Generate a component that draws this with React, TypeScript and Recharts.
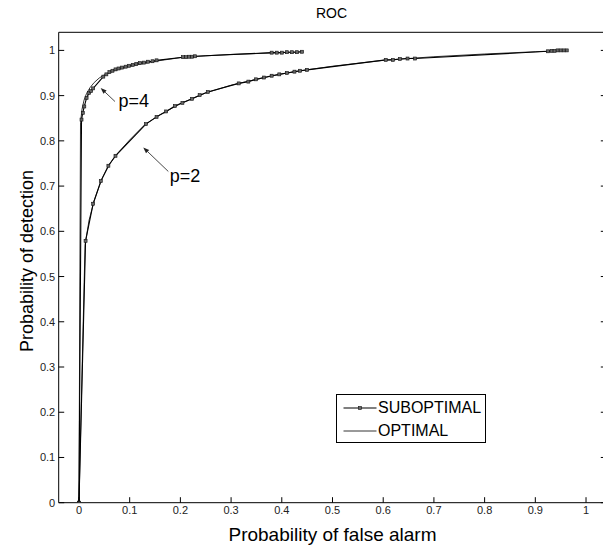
import React from "react";
import { Label, Legend, Line, LineChart, ReferenceDot, ReferenceLine, XAxis, YAxis } from "recharts";

const X_TICKS = [0, 0.1, 0.2, 0.3, 0.4, 0.5, 0.6, 0.7, 0.8, 0.9, 1];
const Y_TICKS = [0, 0.1, 0.2, 0.3, 0.4, 0.5, 0.6, 0.7, 0.8, 0.9, 1];

// [false alarm, detection] pairs
const SUB_P4: [number, number][] = [
  [0, 0], [0.005, 0.847], [0.0075, 0.862], [0.0105, 0.876], [0.015, 0.895], [0.02, 0.906],
  [0.024, 0.91], [0.028, 0.916], [0.048, 0.942], [0.054, 0.947], [0.06, 0.952], [0.066, 0.955],
  [0.072, 0.958], [0.078, 0.96], [0.085, 0.962], [0.092, 0.964], [0.099, 0.966], [0.106, 0.968],
  [0.113, 0.97], [0.12, 0.972], [0.128, 0.973], [0.136, 0.975], [0.145, 0.976], [0.153, 0.978],
  [0.205, 0.985], [0.211, 0.985], [0.217, 0.986], [0.223, 0.986], [0.229, 0.987],
  [0.38, 0.995], [0.39, 0.995], [0.4, 0.995], [0.41, 0.996], [0.42, 0.996], [0.43, 0.996], [0.44, 0.997],
];

const OPT_P4: [number, number][] = [
  [0, 0], [0.003, 0.84], [0.006, 0.87], [0.01, 0.89], [0.015, 0.905], [0.022, 0.918],
  [0.03, 0.929], [0.04, 0.939], [0.05, 0.946], [0.07, 0.955], [0.1, 0.965], [0.15, 0.976],
  [0.2, 0.984], [0.25, 0.988], [0.3, 0.991], [0.35, 0.993], [0.4, 0.995], [0.44, 0.997],
];

const SUB_P2: [number, number][] = [
  [0, 0], [0.013, 0.579], [0.028, 0.661], [0.043, 0.711], [0.058, 0.745], [0.072, 0.767],
  [0.132, 0.837], [0.153, 0.853], [0.172, 0.865], [0.189, 0.877], [0.204, 0.884], [0.223, 0.893],
  [0.238, 0.901], [0.254, 0.908], [0.315, 0.927], [0.334, 0.931], [0.349, 0.936], [0.365, 0.94],
  [0.38, 0.944], [0.395, 0.947], [0.41, 0.95], [0.425, 0.953], [0.436, 0.955], [0.45, 0.957],
  [0.605, 0.979], [0.619, 0.979], [0.633, 0.981], [0.648, 0.982], [0.663, 0.982],
  [0.925, 0.998], [0.932, 0.999], [0.938, 0.999], [0.944, 1], [0.95, 1], [0.956, 1], [0.962, 1],
];

const OPT_P2: [number, number][] = [
  [0, 0], [0.012, 0.57], [0.02, 0.625], [0.03, 0.668], [0.045, 0.715], [0.06, 0.748],
  [0.075, 0.771], [0.1, 0.802], [0.13, 0.836], [0.16, 0.858], [0.2, 0.882], [0.25, 0.906],
  [0.3, 0.923], [0.35, 0.936], [0.4, 0.948], [0.45, 0.957], [0.5, 0.965], [0.6, 0.978],
  [0.7, 0.986], [0.8, 0.992], [0.9, 0.997], [0.96, 1],
];

const LEGEND_ITEMS = [
  { name: "SUBOPTIMAL", marker: true },
  { name: "OPTIMAL", marker: false },
];

const FONT = '"Liberation Sans", Arial, Helvetica, sans-serif';
const TICK_LEN = 5.5;

const toPoints = (arr: [number, number][]) => arr.map(([x, y]) => ({ x, y }));
const fmt = (v: number) => String(Number(v.toFixed(2)));

const SquareDot = (p: any) => {
  if (typeof p.cx !== "number" || typeof p.cy !== "number") return <g />;
  return (
    <rect
      key={p.key ?? `${p.cx}-${p.cy}`}
      x={p.cx - 1.5}
      y={p.cy - 1.5}
      width={3}
      height={3}
      fill="#666"
      stroke="#111"
      strokeWidth={0.6}
    />
  );
};

const BottomTick = (p: any) => (
  <g>
    <line x1={p.x} y1={p.y} x2={p.x} y2={p.y - TICK_LEN} stroke="#000" />
    <text x={p.x} y={p.y + 11.5} textAnchor="middle" fontSize={11} fontFamily={FONT} fill="#222">
      {fmt(p.payload.value)}
    </text>
  </g>
);

const TopTick = (p: any) => (
  <line x1={p.x} y1={p.y} x2={p.x} y2={p.y + TICK_LEN} stroke="#000" />
);

const LeftTick = (p: any) => (
  <g>
    <line x1={p.x} y1={p.y} x2={p.x + TICK_LEN} y2={p.y} stroke="#000" />
    <text x={p.x - 3.5} y={p.y + 4} textAnchor="end" fontSize={11} fontFamily={FONT} fill="#222">
      {fmt(p.payload.value)}
    </text>
  </g>
);

const RightTick = (p: any) => (
  <line x1={p.x} y1={p.y} x2={p.x - TICK_LEN} y2={p.y} stroke="#000" />
);

const Arrow = (p: any) => {
  const { x1, y1, x2, y2 } = p;
  const a = Math.atan2(y2 - y1, x2 - x1);
  const len = 6;
  const half = 2.3;
  const bx = x2 - len * Math.cos(a);
  const by = y2 - len * Math.sin(a);
  const pts = [
    `${x2},${y2}`,
    `${bx + half * Math.sin(a)},${by - half * Math.cos(a)}`,
    `${bx - half * Math.sin(a)},${by + half * Math.cos(a)}`,
  ].join(" ");
  return (
    <g>
      <line x1={x1} y1={y1} x2={bx} y2={by} stroke="#333" strokeWidth={0.9} />
      <polygon points={pts} fill="#222" />
    </g>
  );
};

const textShape = (value: string) => (p: any) => (
  <text x={p.cx} y={p.cy} fontSize={18} fontFamily={FONT} fill="#000">
    {value}
  </text>
);

const LegendBox = () => (
  <div
    style={{
      border: "1px solid #000",
      background: "#fff",
      width: 148,
      height: 46,
      paddingTop: 1,
      fontFamily: FONT,
      fontSize: 16,
      color: "#000",
    }}
  >
    {LEGEND_ITEMS.map((it) => (
      <div key={it.name} style={{ display: "flex", alignItems: "center", height: 23.3, paddingLeft: 6 }}>
        <svg width={35} height={10} style={{ display: "block" }}>
          <line x1={0.5} y1={5} x2={33.5} y2={5} stroke="#000" strokeWidth={it.marker ? 1.1 : 0.8} />
          {it.marker && <rect x={15.5} y={3.5} width={3} height={3} fill="#666" stroke="#111" strokeWidth={0.6} />}
        </svg>
        <span style={{ lineHeight: "18px" }}>{it.name}</span>
      </div>
    ))}
  </div>
);

export default function App() {
  return (
    <div style={{ position: "absolute", left: 0, top: 0, width: 603, height: 547, overflow: "hidden", background: "#fff" }}>
      <LineChart width={620} height={547} margin={{ top: 31.3, right: 12.7, bottom: 0, left: 18.7 }}>
        <XAxis
          xAxisId="bottom"
          dataKey="x"
          type="number"
          domain={[-0.04, 1.04]}
          ticks={X_TICKS}
          interval={0}
          allowDataOverflow
          height={44.3}
          tickSize={0}
          tickMargin={0}
          tickLine={false}
          axisLine={{ stroke: "#000" }}
          tick={BottomTick}
        >
          <Label
            content={(p: any) => (
              <text
                x={p.viewBox.x + p.viewBox.width / 2}
                y={p.viewBox.y + 38}
                textAnchor="middle"
                fontSize={19}
                fontFamily={FONT}
                fill="#000"
              >
                Probability of false alarm
              </text>
            )}
          />
        </XAxis>
        <XAxis
          xAxisId="top"
          orientation="top"
          type="number"
          domain={[-0.04, 1.04]}
          ticks={X_TICKS}
          interval={0}
          allowDataOverflow
          height={1}
          tickSize={0}
          tickMargin={0}
          tickLine={false}
          axisLine={{ stroke: "#000" }}
          tick={TopTick}
        >
          <Label
            content={(p: any) => (
              <text
                x={p.viewBox.x + p.viewBox.width / 2 - 1}
                y={p.viewBox.y - 13}
                textAnchor="middle"
                fontSize={14}
                fontFamily={FONT}
                fill="#000"
              >
                ROC
              </text>
            )}
          />
        </XAxis>
        <YAxis
          yAxisId="left"
          type="number"
          domain={[0, 1.04]}
          ticks={Y_TICKS}
          interval={0}
          allowDataOverflow
          width={40}
          tickSize={0}
          tickMargin={0}
          tickLine={false}
          axisLine={{ stroke: "#000" }}
          tick={LeftTick}
        >
          <Label
            content={() => (
              <text
                x={33}
                y={261}
                transform="rotate(-90 33 261)"
                textAnchor="middle"
                fontSize={18}
                fontFamily={FONT}
                fill="#000"
              >
                Probability of detection
              </text>
            )}
          />
        </YAxis>
        <YAxis
          yAxisId="right"
          orientation="right"
          type="number"
          domain={[0, 1.04]}
          ticks={Y_TICKS}
          interval={0}
          allowDataOverflow
          width={1}
          tickSize={0}
          tickMargin={0}
          tickLine={false}
          axisLine={{ stroke: "#000" }}
          tick={RightTick}
        />

        <Line
          xAxisId="bottom"
          yAxisId="left"
          data={toPoints(OPT_P2)}
          dataKey="y"
          stroke="#000"
          strokeWidth={0.8}
          dot={false}
          activeDot={false}
          isAnimationActive={false}
        />
        <Line
          xAxisId="bottom"
          yAxisId="left"
          data={toPoints(OPT_P4)}
          dataKey="y"
          stroke="#000"
          strokeWidth={0.8}
          dot={false}
          activeDot={false}
          isAnimationActive={false}
        />
        <Line
          xAxisId="bottom"
          yAxisId="left"
          data={toPoints(SUB_P2)}
          dataKey="y"
          stroke="#000"
          strokeWidth={1.1}
          dot={SquareDot}
          activeDot={false}
          isAnimationActive={false}
        />
        <Line
          xAxisId="bottom"
          yAxisId="left"
          data={toPoints(SUB_P4)}
          dataKey="y"
          stroke="#000"
          strokeWidth={1.1}
          dot={SquareDot}
          activeDot={false}
          isAnimationActive={false}
        />

        <ReferenceLine
          xAxisId="bottom"
          yAxisId="left"
          segment={[{ x: 0.071, y: 0.887 }, { x: 0.0428, y: 0.9168 }]}
          shape={Arrow}
        />
        <ReferenceLine
          xAxisId="bottom"
          yAxisId="left"
          segment={[{ x: 0.1762, y: 0.7323 }, { x: 0.1268, y: 0.7854 }]}
          shape={Arrow}
        />
        <ReferenceDot xAxisId="bottom" yAxisId="left" x={0.078} y={0.875} r={0} shape={textShape("p=4")} />
        <ReferenceDot xAxisId="bottom" yAxisId="left" x={0.179} y={0.708} r={0} shape={textShape("p=2")} />

        <Legend
          layout="vertical"
          align="center"
          verticalAlign="middle"
          content={LegendBox}
          wrapperStyle={{ left: 336, top: 394, right: "auto", bottom: "auto", width: "auto" }}
        />
      </LineChart>
    </div>
  );
}
